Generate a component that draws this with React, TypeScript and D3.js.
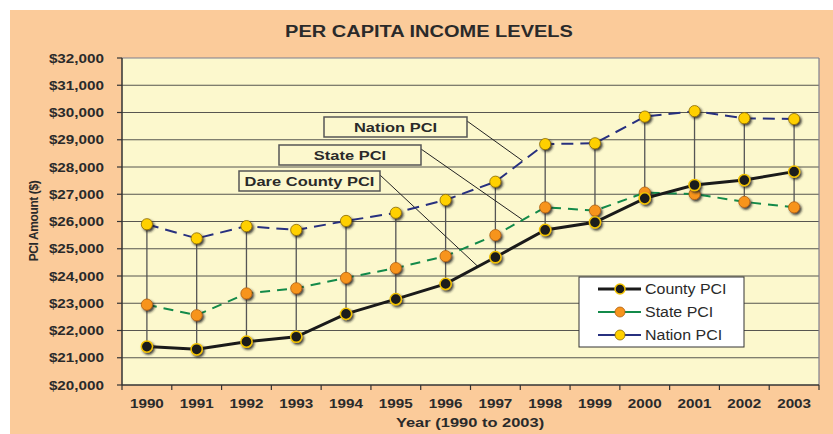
import React, { useEffect } from 'react'
import * as d3 from 'd3'

// values
const years = ['1990', '1991', '1992', '1993', '1994', '1995', '1996', '1997', '1998', '1999', '2000', '2001', '2002', '2003']
const countyPci = [21410, 21310, 21590, 21770, 22610, 23150, 23710, 24690, 25690, 25970, 26850, 27340, 27520, 27830]
const statePci = [22950, 22560, 23360, 23550, 23930, 24290, 24730, 25500, 26520, 26400, 27060, 27010, 26720, 26520]
const nationPci = [25900, 25380, 25830, 25690, 26020, 26320, 26790, 27460, 28840, 28870, 29850, 30050, 29790, 29760]
const yTicks = [20000, 21000, 22000, 23000, 24000, 25000, 26000, 27000, 28000, 29000, 30000, 31000, 32000]

const W = 833
const H = 434
const plot = { left: 122, right: 819, top: 58, bottom: 385 }
const font = 'Liberation Sans, Arial, sans-serif'
const STRETCH = 1.22 // the source image's lettering is a bit wide

const series = [
  { name: 'County PCI', values: countyPci, line: '#1a1a1a', width: 3, dash: '', fill: '#1c1c1c', ring: '#f2c200' },
  { name: 'State PCI', values: statePci, line: '#138a4a', width: 2, dash: '10,7', fill: '#f7941d', ring: '#b06010' },
  { name: 'Nation PCI', values: nationPci, line: '#27307f', width: 2, dash: '12,7', fill: '#ffd000', ring: '#8a6a00' },
]

// callout boxes: label, box, and which series/position the leader points at
const callouts = [
  { label: 'Nation PCI', x: 324, y: 117, w: 143, h: 20, idx: 2, at: 7.55 },
  { label: 'State PCI', x: 279, y: 145, w: 142, h: 20, idx: 1, at: 7.55 },
  { label: 'Dare County PCI', x: 239, y: 171, w: 141, h: 20, idx: 0, at: 6.65 },
]

// wide text helper
const T: React.FC<{ x: number; y: number; sx?: number; anchor?: string; size: number; bold?: boolean; dy?: string; children: React.ReactNode }> = ({
  x,
  y,
  sx = STRETCH,
  anchor = 'start',
  size,
  bold = true,
  dy,
  children,
}) => (
  <g transform={`translate(${x},${y}) scale(${sx},1)`}>
    <text textAnchor={anchor} fontSize={size} fontWeight={bold ? 'bold' : 'normal'} dy={dy} fill="#2a2a2a">
      {children}
    </text>
  </g>
)

export default function App() {
  useEffect(() => {
    document.body.style.margin = '0'
  }, [])

  const x = d3.scaleBand<string>().domain(years).range([plot.left, plot.right])
  const y = d3.scaleLinear().domain([20000, 32000]).range([plot.bottom, plot.top])
  const cx = (i: number) => (x(years[i]) ?? 0) + x.bandwidth() / 2

  const lineGen = d3
    .line<number>()
    .x((_, i) => cx(i))
    .y((d) => y(d))

  // position along a series at fractional index (for leader lines)
  const along = (vals: number[], t: number) => {
    const i = Math.floor(t)
    const f = t - i
    const px = cx(i) + (cx(i + 1) - cx(i)) * f
    const py = y(vals[i]) + (y(vals[i + 1]) - y(vals[i])) * f
    return [px, py]
  }

  return (
    <svg width={W} height={H} style={{ display: 'block', fontFamily: font }}>
      <defs>
        <filter id="sh" x="-50%" y="-50%" width="200%" height="200%">
          <feDropShadow dx="1.6" dy="1.8" stdDeviation="0.8" floodColor="#222" floodOpacity="0.85" />
        </filter>
      </defs>
      <rect x={0} y={0} width={W} height={H} fill="#fff" />
      <rect x={10} y={10} width={W - 10} height={H - 10} fill="#fbcb9a" />

      <T x={429} y={37} anchor="middle" size={16} sx={1.25}>
        PER CAPITA INCOME LEVELS
      </T>

      {/* plot area */}
      <rect x={plot.left} y={plot.top} width={plot.right - plot.left} height={plot.bottom - plot.top} fill="#fcf8cd" />
      {yTicks.slice(1, -1).map((t) => (
        <line key={t} x1={plot.left} x2={plot.right} y1={y(t)} y2={y(t)} stroke="#3a3a3a" strokeWidth={1} strokeOpacity={0.85} />
      ))}
      <line x1={plot.left} x2={plot.right} y1={plot.top} y2={plot.top} stroke="#7d7f90" strokeWidth={1.2} />
      <line x1={plot.right} x2={plot.right} y1={plot.top} y2={plot.bottom} stroke="#7d7f90" strokeWidth={1.2} />

      {/* y axis */}
      <line x1={plot.left} x2={plot.left} y1={plot.top} y2={plot.bottom} stroke="#333" strokeWidth={1.5} />
      {yTicks.map((t) => (
        <g key={t}>
          <line x1={plot.left - 5} x2={plot.left} y1={y(t)} y2={y(t)} stroke="#333" strokeWidth={1.2} />
          <T x={104} y={y(t)} dy="0.36em" anchor="end" size={12.5}>
            {d3.format('$,')(t)}
          </T>
        </g>
      ))}
      <text transform={`translate(38,221) rotate(-90)`} textAnchor="middle" fontSize={12} fontWeight="bold" fill="#2a2a2a" letterSpacing={-0.4}>
        PCI Amount ($)
      </text>

      {/* x axis */}
      <line x1={plot.left} x2={plot.right} y1={plot.bottom} y2={plot.bottom} stroke="#333" strokeWidth={1.5} />
      {years.map((yr, i) => (
        <g key={yr}>
          <line x1={x(yr)} x2={x(yr)} y1={plot.bottom} y2={plot.bottom + 5} stroke="#333" strokeWidth={1.2} />
          <T x={cx(i)} y={408} anchor="middle" size={12.5}>
            {yr}
          </T>
        </g>
      ))}
      <line x1={plot.right} x2={plot.right} y1={plot.bottom} y2={plot.bottom + 5} stroke="#333" strokeWidth={1.2} />
      <T x={470} y={427} anchor="middle" size={13.5}>
        Year (1990 to 2003)
      </T>

      {/* high-low drop lines */}
      {years.map((yr, i) => {
        const hi = Math.max(countyPci[i], statePci[i], nationPci[i])
        const lo = Math.min(countyPci[i], statePci[i], nationPci[i])
        return <line key={yr} x1={cx(i)} x2={cx(i)} y1={y(hi)} y2={y(lo)} stroke="#555" strokeWidth={1.3} />
      })}

      {/* callouts */}
      {callouts.map((c) => {
        const [ex, ey] = along(series[c.idx].values, c.at)
        return (
          <g key={c.label}>
            <line x1={c.x + c.w} y1={c.y + 4} x2={ex} y2={ey} stroke="#222" strokeWidth={1} />
            <rect x={c.x} y={c.y} width={c.w} height={c.h} fill="#fcf8cd" stroke="#555" strokeWidth={1.5} />
            <T x={c.x + c.w / 2} y={c.y + c.h / 2} dy="0.36em" anchor="middle" size={13.5}>
              {c.label}
            </T>
          </g>
        )
      })}

      {/* series lines */}
      {series
        .slice()
        .reverse()
        .map((s) => (
          <path key={s.name} d={lineGen(s.values) ?? ''} fill="none" stroke={s.line} strokeWidth={s.width} strokeDasharray={s.dash} />
        ))}
      {series
        .slice()
        .reverse()
        .map((s) => (
          <g key={s.name} filter="url(#sh)">
            {s.values.map((v, i) => (
              <circle key={i} cx={cx(i)} cy={y(v)} r={5.6} fill={s.fill} stroke={s.ring} strokeWidth={s.name === 'County PCI' ? 1.5 : 0.8} />
            ))}
          </g>
        ))}

      {/* legend */}
      <rect x={579} y={277} width={165} height={70} fill="#fff" stroke="#333" strokeWidth={1} />
      {series.map((s, i) => {
        const ly = 289 + i * 23
        return (
          <g key={s.name}>
            <line x1={598} x2={641} y1={ly} y2={ly} stroke={s.line} strokeWidth={s.name === 'County PCI' ? 3 : 2} />
            <circle cx={620} cy={ly} r={5} fill={s.fill} stroke={s.ring} strokeWidth={s.name === 'County PCI' ? 1.5 : 0.8} />
            <T x={645} y={ly} dy="0.36em" size={14.5} bold={false} sx={1.1}>
              {s.name}
            </T>
          </g>
        )
      })}
    </svg>
  )
}
